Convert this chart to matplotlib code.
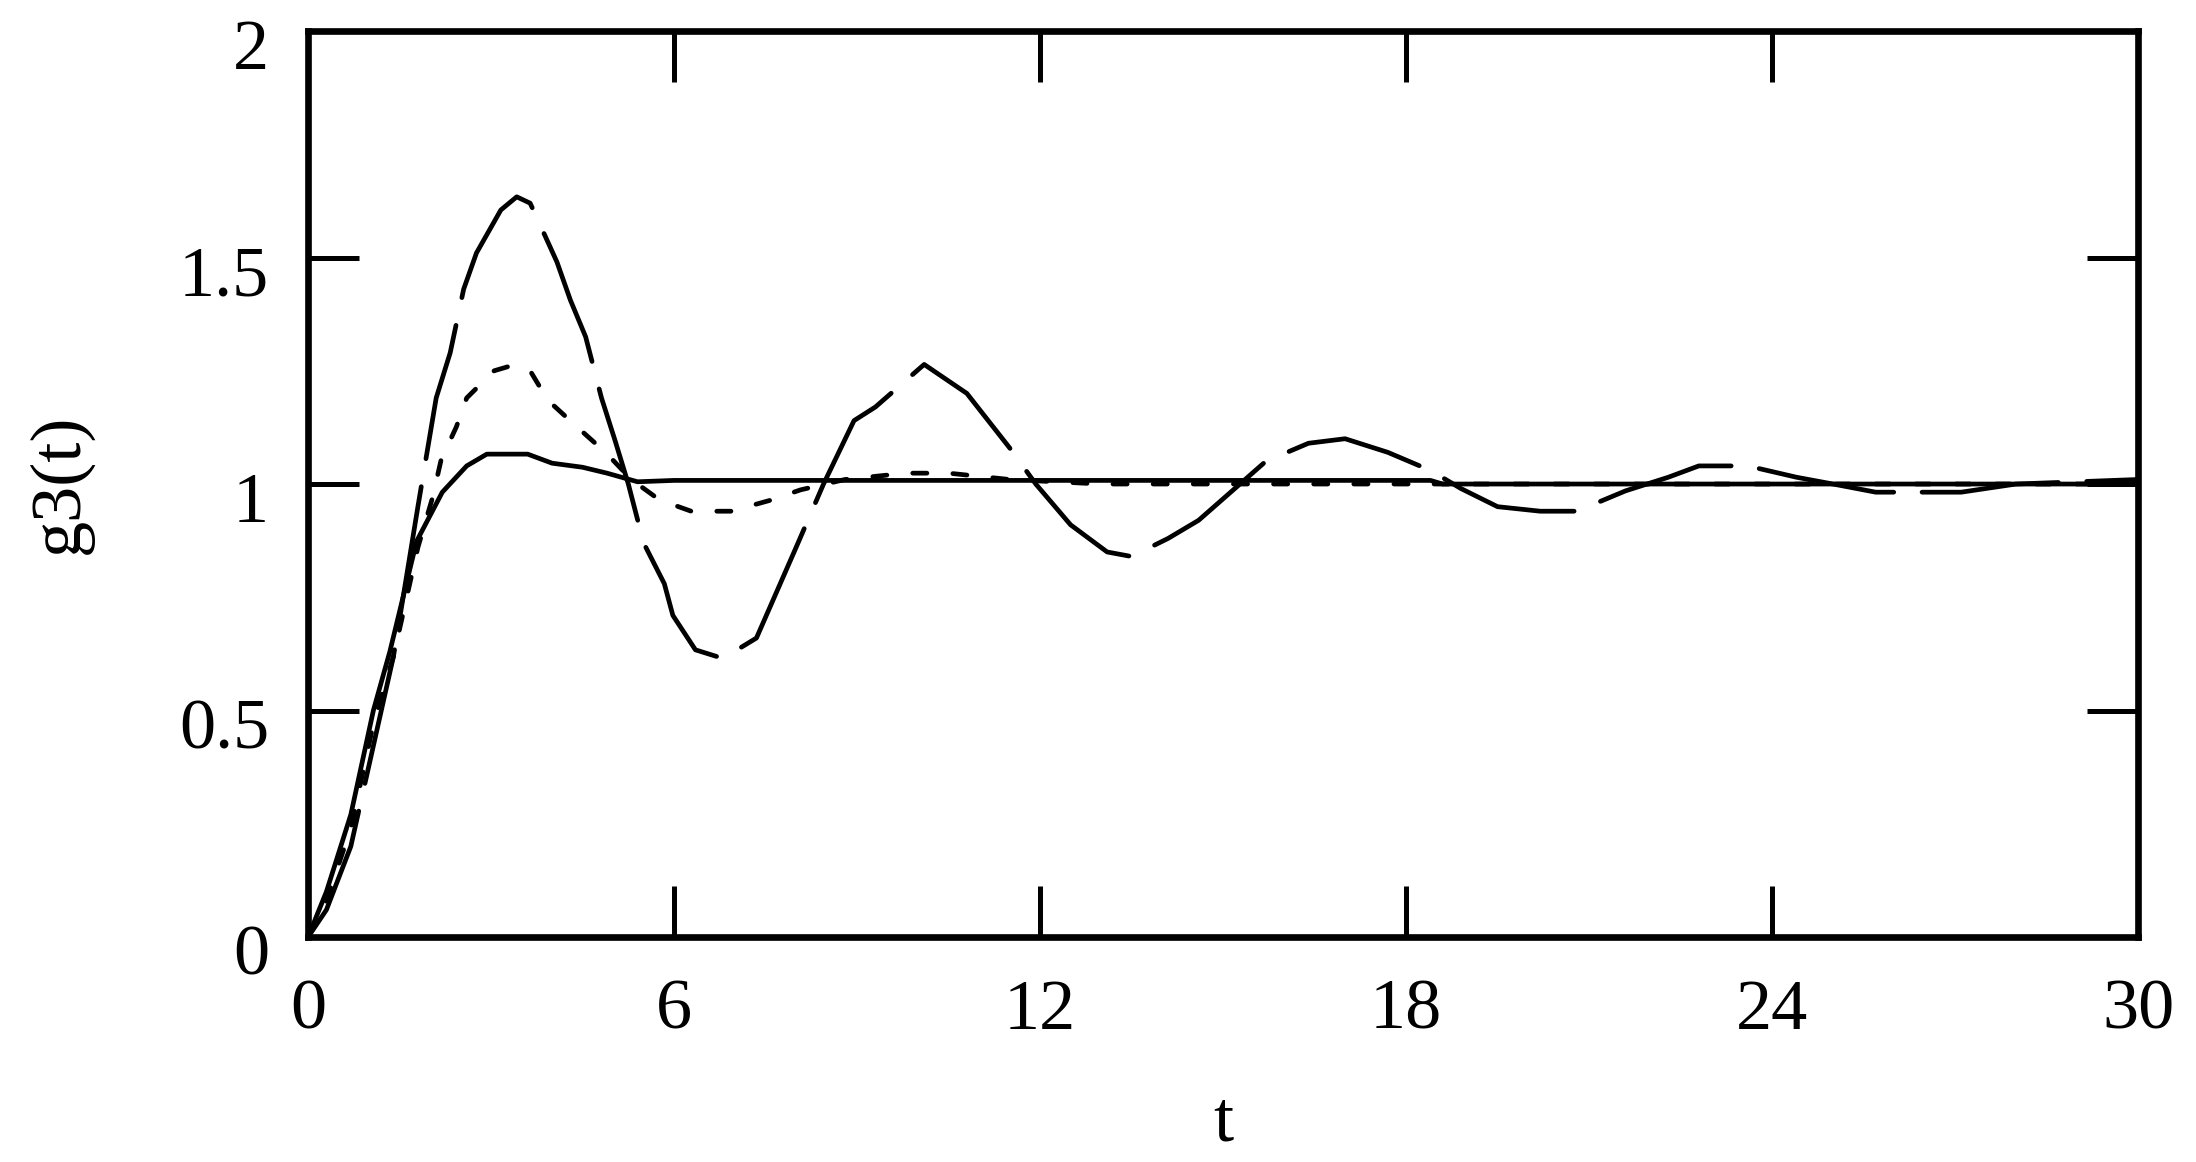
import matplotlib
matplotlib.use("Agg")
import matplotlib.pyplot as plt
import matplotlib.transforms as mtransforms
import numpy as np

# values
t_solid = [0, 0.3, 0.7, 1.07, 1.34, 1.78, 2.2, 2.6, 2.93, 3.6, 4.0, 4.5, 4.9, 5.4, 6, 12, 18.4, 18.6, 30]
g_solid = [0, 0.10, 0.27, 0.5, 0.63, 0.874, 0.982, 1.04, 1.066, 1.066, 1.046, 1.037, 1.024, 1.005,
           1.008, 1.008, 1.008, 1.0, 1.0]

t_short = [0, 0.3, 0.7, 1.07, 1.4, 1.8, 2.04, 2.18, 2.43, 2.6, 3.05, 3.3, 3.64, 3.93, 4.41, 4.89,
           5.3, 5.76, 6.28, 6.93, 7.6, 8.07, 8.8, 9.8, 10.5, 11.5, 13, 30]
g_short = [0, 0.08, 0.24, 0.47, 0.62, 0.86, 0.97, 1.053, 1.126, 1.19, 1.25, 1.26, 1.25, 1.185,
           1.126, 1.068, 1.01, 0.965, 0.94, 0.94, 0.965, 0.987, 1.01, 1.024, 1.024, 1.01, 1.0, 1.0]

t_long = [0, 0.3, 0.7, 1.0, 1.4, 1.8, 2.1, 2.33, 2.55, 2.76, 3.16, 3.42, 3.64, 3.79, 4.08, 4.3,
          4.55, 4.81, 5.03, 5.25, 5.5, 5.84, 5.98, 6.35, 6.8, 7.35, 8.0, 8.45, 8.95, 9.3, 10.1,
          10.8, 11.5, 11.93, 12.5, 13.1, 13.5, 14.1, 14.6, 15.15, 15.7, 16.4, 17.0, 17.7, 18.4,
          18.9, 19.5, 20.2, 20.8, 21.6, 22.3, 22.8, 23.6, 24.4, 25.0, 25.7, 27.1, 28.0, 30]
g_long = [0, 0.06, 0.2, 0.38, 0.62, 0.95, 1.19, 1.29, 1.43, 1.51, 1.605, 1.634, 1.62, 1.576,
          1.49, 1.406, 1.325, 1.19, 1.097, 1.0, 0.87, 0.78, 0.71, 0.634, 0.615, 0.66, 0.86, 1.0,
          1.14, 1.17, 1.264, 1.2, 1.08, 1.0, 0.91, 0.85, 0.84, 0.88, 0.92, 0.985, 1.05, 1.09,
          1.10, 1.07, 1.03, 0.99, 0.95, 0.94, 0.94, 0.985, 1.015, 1.04, 1.04, 1.015, 1.0, 0.982,
          0.982, 1.0, 1.01]

x_ticks = [0, 6, 12, 18, 24, 30]
y_ticks = [0, 0.5, 1, 1.5, 2]
y_ticklabels = ["0", "0.5", "1", "1.5", "2"]

plt.rcParams["font.family"] = ["Liberation Serif", "DejaVu Serif"]

fig = plt.figure(figsize=(21.96, 11.62), dpi=100)
ax = fig.add_axes([0.1403, 0.1936, 0.8333, 0.7797])

lw = 3.4
ax.plot(t_solid, g_solid, color="black", lw=lw, solid_capstyle="round")
ax.plot(t_short, g_short, color="black", lw=lw, linestyle=(0, (3.0, 5.5)), dash_capstyle="round")
ax.plot(t_long, g_long, color="black", lw=lw, linestyle=(0, (29, 6)), dash_capstyle="round")

ax.set_xlim(0, 30)
ax.set_ylim(0, 2)
ax.set_xticks(x_ticks)
ax.set_yticks(y_ticks)
ax.set_yticklabels(y_ticklabels)

for s in ax.spines.values():
    s.set_linewidth(4.8)

ax.tick_params(axis="both", direction="in", length=37, width=3.6, labelsize=52,
               top=True, right=True)
ax.tick_params(axis="y", pad=28)
ax.tick_params(axis="x", pad=30)

# y labels sit a little below their ticks in the original
shift = mtransforms.ScaledTranslation(0, -9 / 72, fig.dpi_scale_trans)
for lab in ax.get_yticklabels():
    lab.set_transform(lab.get_transform() + shift)

ax.set_xlabel("t", fontsize=52, labelpad=34)
ax.set_ylabel("g3(t)", fontsize=52, labelpad=62)

fig.savefig("out.png", dpi=100)
